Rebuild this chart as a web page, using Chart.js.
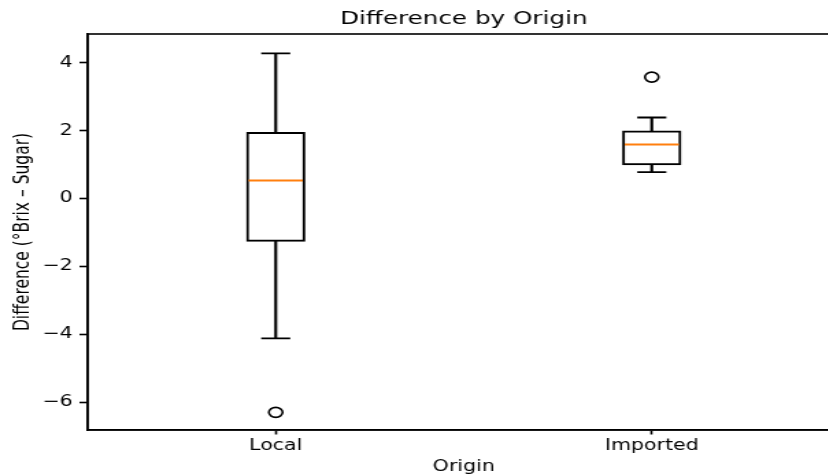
<!DOCTYPE html>
<html>
<head>
<meta charset="utf-8">
<script src="https://cdn.jsdelivr.net/npm/chart.js@4.4.1/dist/chart.umd.min.js"></script>
<style>
  html, body { margin: 0; padding: 0; background: #fff; overflow: hidden; }
  /* the reference picture is stretched sideways, so the canvas is too */
  #wrap { width: 677px; height: 476px; transform: scaleX(1.37); transform-origin: 0 0; }
</style>
</head>
<body>
<div id="wrap"><canvas id="chart" width="677" height="476"></canvas></div>
<script>
// Données
const categories = ['Local', 'Imported'];
const q1 = [-1.26, 0.99];
const q3 = [1.95, 2.00];
const medians = [0.53, 1.59];
const whiskerLow = [-4.12, 0.78];
const whiskerHigh = [4.28, 2.39];
const outlierOrigins = ['Local', 'Imported'];
const outlierValues = [-6.30, 3.58];
const yTicks = [-6, -4, -2, 0, 2, 4];
const yMin = -6.82;
const yMax = 4.85;

const FONT = 'DejaVu Sans';
const LW = 1.6;

// Cadre complet (matplotlib dessine les 4 côtés)
const framePlugin = {
    id: 'frame',
    afterDatasetsDraw(chart) {
        const { ctx, chartArea } = chart;
        ctx.save();
        ctx.strokeStyle = '#000';
        ctx.lineWidth = LW;
        ctx.strokeRect(chartArea.left, chartArea.top, chartArea.right - chartArea.left, chartArea.bottom - chartArea.top);
        ctx.restore();
    }
};

function initChart() {
    const ctx = document.getElementById('chart').getContext('2d');

    new Chart(ctx, {
        data: {
            labels: categories,
            datasets: [
                {
                    type: 'bar',
                    data: categories.map((c, i) => [q1[i], q3[i]]),
                    grouped: false,
                    barThickness: 42.6,
                    backgroundColor: '#fff',
                    borderColor: '#000',
                    borderWidth: 2,
                    borderSkipped: false,
                    order: 3
                },
                {
                    type: 'bar',
                    data: categories.map((c, i) => [whiskerLow[i], q1[i]]),
                    grouped: false,
                    barThickness: 1.5,
                    backgroundColor: '#000',
                    borderWidth: 0,
                    order: 4
                },
                {
                    type: 'bar',
                    data: categories.map((c, i) => [q3[i], whiskerHigh[i]]),
                    grouped: false,
                    barThickness: 1.5,
                    backgroundColor: '#000',
                    borderWidth: 0,
                    order: 4
                },
                {
                    type: 'line',
                    data: whiskerLow,
                    showLine: false,
                    pointStyle: 'line',
                    pointRadius: 10.6,
                    pointBorderColor: '#000',
                    pointBorderWidth: 1.8,
                    order: 2
                },
                {
                    type: 'line',
                    data: whiskerHigh,
                    showLine: false,
                    pointStyle: 'line',
                    pointRadius: 10.6,
                    pointBorderColor: '#000',
                    pointBorderWidth: 1.8,
                    order: 2
                },
                {
                    type: 'line',
                    data: medians,
                    showLine: false,
                    pointStyle: 'line',
                    pointRadius: 19.8,
                    pointBorderColor: '#ff7f0e',
                    pointBorderWidth: 2,
                    order: 1
                },
                {
                    type: 'line',
                    data: outlierOrigins.map((o, i) => ({ x: o, y: outlierValues[i] })),
                    showLine: false,
                    pointStyle: 'circle',
                    pointRadius: 5,
                    pointBackgroundColor: 'rgba(0,0,0,0)',
                    pointBorderColor: '#000',
                    pointBorderWidth: LW,
                    order: 1
                }
            ]
        },
        options: {
            responsive: false,
            devicePixelRatio: 1,
            animation: false,
            events: [],
            layout: { padding: { left: 0, right: 64, top: 0, bottom: 0 } },
            plugins: {
                legend: { display: false },
                tooltip: { enabled: false },
                title: {
                    display: true,
                    fullSize: false,
                    text: 'Difference by Origin',
                    color: '#000',
                    font: { family: FONT, size: 18, weight: 'normal' },
                    padding: { top: 9, bottom: 3.4 }
                }
            },
            scales: {
                x: {
                    type: 'category',
                    offset: true,
                    afterFit(scale) { scale.height = 46; },
                    grid: {
                        offset: false,
                        drawOnChartArea: false,
                        drawTicks: true,
                        tickLength: 4.5,
                        tickWidth: LW,
                        tickColor: '#000'
                    },
                    border: { display: true, color: '#000', width: LW },
                    ticks: {
                        color: '#000',
                        padding: 3,
                        font: { family: FONT, size: 15 }
                    },
                    title: {
                        display: true,
                        text: 'Origin',
                        color: '#000',
                        font: { family: FONT, size: 15 },
                        padding: { top: 0, bottom: 0 }
                    }
                },
                y: {
                    type: 'linear',
                    min: yMin,
                    max: yMax,
                    afterFit(scale) { scale.width = 64; },
                    afterBuildTicks(scale) { scale.ticks = yTicks.map(v => ({ value: v })); },
                    grid: {
                        drawOnChartArea: false,
                        drawTicks: true,
                        tickLength: 6,
                        tickWidth: LW,
                        tickColor: '#000'
                    },
                    border: { display: true, color: '#000', width: LW },
                    ticks: {
                        color: '#000',
                        padding: 5,
                        font: { family: FONT, size: 15 },
                        callback: v => String(v).replace('-', '\u2212')
                    },
                    title: {
                        display: true,
                        text: 'Difference (°Brix \u2013 Sugar)',
                        color: '#000',
                        font: { family: FONT, size: 15.5 },
                        padding: { top: 7.5, bottom: 0 }
                    }
                }
            }
        },
        plugins: [framePlugin]
    });
}

document.addEventListener('DOMContentLoaded', initChart);
</script>
</body>
</html>
